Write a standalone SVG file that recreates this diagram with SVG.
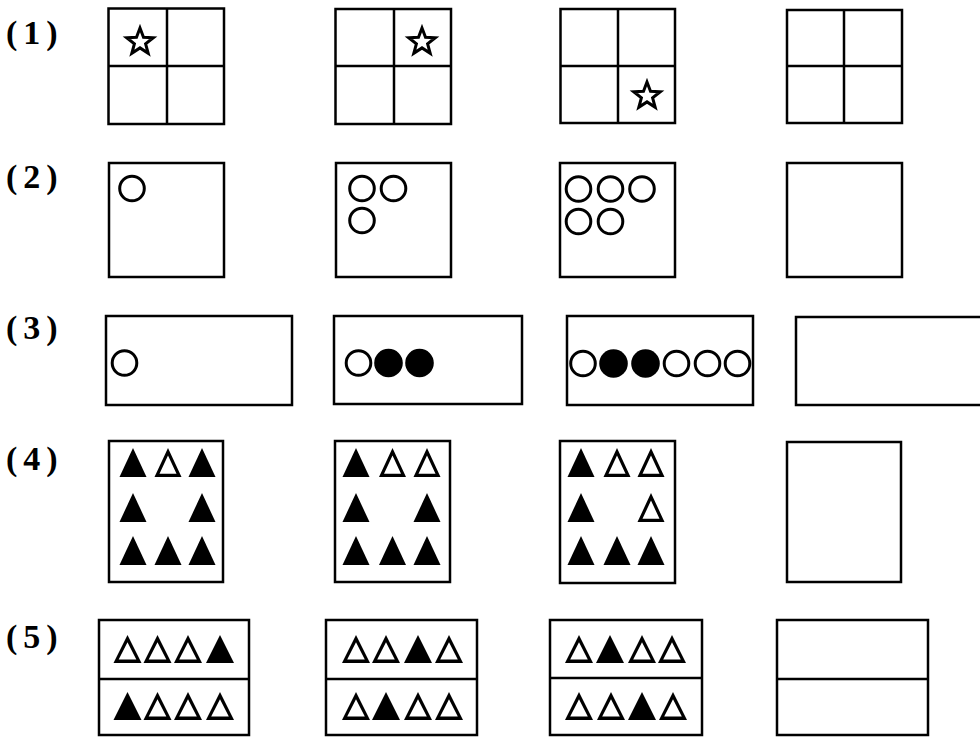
<svg xmlns="http://www.w3.org/2000/svg" xmlns:xlink="http://www.w3.org/1999/xlink" width="980" height="737" viewBox="0 0 980 737">
<style>
.box{fill:none;stroke:#000;stroke-width:2.5}
.div{stroke:#000;stroke-width:2.5}
.oc{fill:none;stroke:#000;stroke-width:3}
.fc{fill:#000}
.lbl{font-family:"Liberation Serif","Times New Roman",serif;font-size:34px;font-weight:bold;letter-spacing:6px;fill:#000}
</style>
<defs>
<path id="star" d="M0,-14 L3.5,-4.8 L13.3,-4.3 L5.6,1.8 L8.2,11.3 L0,5.9 L-8.2,11.3 L-5.6,1.8 L-13.3,-4.3 L-3.5,-4.8 Z" fill="#fff" stroke="#000" stroke-width="3" stroke-linejoin="miter"/>
<path id="tf4" d="M0,0 L13.5,29 L-13.5,29 Z" fill="#000"/>
<path id="to4" d="M0,0 L13.5,29 L-13.5,29 Z M0,7.6 L-8.5,25.7 L8.5,25.7 Z" fill="#000" fill-rule="evenodd"/>
<path id="tf5" d="M0,0 L14,28 L-14,28 Z" fill="#000"/>
<path id="to5" d="M0,0 L14,28 L-14,28 Z M0,7.2 L-8.8,24.6 L8.8,24.6 Z" fill="#000" fill-rule="evenodd"/>
</defs>
<rect width="980" height="737" fill="#fff"/>

<g id="labels">
<text class="lbl" x="6" y="44">(1)</text>
<text class="lbl" x="6" y="188">(2)</text>
<text class="lbl" x="6" y="339">(3)</text>
<text class="lbl" x="6" y="470">(4)</text>
<text class="lbl" x="6" y="648">(5)</text>
</g>

<!-- Row 1 -->
<g id="r1b1">
<rect class="box" x="108.5" y="8.5" width="115.5" height="115.5"/>
<line class="div" x1="167" y1="8.5" x2="167" y2="124"/>
<line class="div" x1="108.5" y1="66" x2="224" y2="66"/>
<use xlink:href="#star" x="140" y="42"/>
</g>
<g id="r1b2">
<rect class="box" x="335.5" y="9" width="115.5" height="115"/>
<line class="div" x1="394" y1="9" x2="394" y2="124"/>
<line class="div" x1="335.5" y1="66" x2="451" y2="66"/>
<use xlink:href="#star" x="422" y="42"/>
</g>
<g id="r1b3">
<rect class="box" x="560.5" y="9" width="114.5" height="114"/>
<line class="div" x1="618" y1="9" x2="618" y2="123"/>
<line class="div" x1="560.5" y1="66" x2="675" y2="66"/>
<use xlink:href="#star" x="647" y="96"/>
</g>
<g id="r1b4">
<rect class="box" x="787" y="10" width="115" height="113"/>
<line class="div" x1="844" y1="10" x2="844" y2="123"/>
<line class="div" x1="787" y1="66" x2="902" y2="66"/>
</g>

<!-- Row 2 -->
<g id="r2b1">
<rect class="box" x="109" y="163" width="115" height="114"/>
<circle class="oc" cx="132" cy="188.5" r="12.3"/>
</g>
<g id="r2b2">
<rect class="box" x="336" y="163" width="115" height="114"/>
<circle class="oc" cx="362" cy="188.5" r="12.3"/>
<circle class="oc" cx="393.5" cy="188.5" r="12.3"/>
<circle class="oc" cx="362" cy="220.5" r="12.3"/>
</g>
<g id="r2b3">
<rect class="box" x="560" y="163" width="115" height="114"/>
<circle class="oc" cx="578.5" cy="189" r="12.3"/>
<circle class="oc" cx="610.5" cy="189" r="12.3"/>
<circle class="oc" cx="642" cy="189" r="12.3"/>
<circle class="oc" cx="578.5" cy="221.5" r="12.3"/>
<circle class="oc" cx="610.5" cy="221.5" r="12.3"/>
</g>
<g id="r2b4">
<rect class="box" x="787" y="163" width="115" height="114"/>
</g>

<!-- Row 3 -->
<g id="r3b1">
<rect class="box" x="106" y="316" width="186" height="89"/>
<circle class="oc" cx="124.5" cy="363" r="12.3"/>
</g>
<g id="r3b2">
<rect class="box" x="334" y="316" width="188" height="88"/>
<circle class="oc" cx="358.5" cy="363" r="12.3"/>
<circle class="fc" cx="388.5" cy="363" r="14.3"/>
<circle class="fc" cx="419.5" cy="363" r="14.3"/>
</g>
<g id="r3b3">
<rect class="box" x="567" y="316" width="186" height="89"/>
<circle class="oc" cx="583" cy="363.5" r="12.3"/>
<circle class="fc" cx="613.5" cy="363.5" r="14.3"/>
<circle class="fc" cx="645.5" cy="363.5" r="14.3"/>
<circle class="oc" cx="676.5" cy="363.5" r="12.3"/>
<circle class="oc" cx="707.5" cy="363.5" r="12.3"/>
<circle class="oc" cx="737.5" cy="363.5" r="12.3"/>
</g>
<g id="r3b4">
<rect class="box" x="796" y="317" width="190" height="88"/>
</g>

<!-- Row 4 -->
<g id="r4b1">
<rect class="box" x="109" y="441" width="114" height="141"/>
<use xlink:href="#tf4" x="133" y="448"/>
<use xlink:href="#to4" x="168" y="448"/>
<use xlink:href="#tf4" x="202" y="448"/>
<use xlink:href="#tf4" x="133" y="493"/>
<use xlink:href="#tf4" x="202" y="493"/>
<use xlink:href="#tf4" x="133" y="536"/>
<use xlink:href="#tf4" x="168" y="536"/>
<use xlink:href="#tf4" x="202" y="536"/>
</g>
<g id="r4b2">
<rect class="box" x="335" y="441" width="115" height="141"/>
<use xlink:href="#tf4" x="356" y="448"/>
<use xlink:href="#to4" x="392.5" y="448"/>
<use xlink:href="#to4" x="427" y="448"/>
<use xlink:href="#tf4" x="356" y="493"/>
<use xlink:href="#tf4" x="427" y="493"/>
<use xlink:href="#tf4" x="356" y="536"/>
<use xlink:href="#tf4" x="392.5" y="536"/>
<use xlink:href="#tf4" x="427" y="536"/>
</g>
<g id="r4b3">
<rect class="box" x="560" y="441" width="115" height="142"/>
<use xlink:href="#tf4" x="581" y="448"/>
<use xlink:href="#to4" x="617" y="448"/>
<use xlink:href="#to4" x="651" y="448"/>
<use xlink:href="#tf4" x="581" y="493"/>
<use xlink:href="#to4" x="651" y="493"/>
<use xlink:href="#tf4" x="581" y="536"/>
<use xlink:href="#tf4" x="617" y="536"/>
<use xlink:href="#tf4" x="651" y="536"/>
</g>
<g id="r4b4">
<rect class="box" x="787" y="442" width="114" height="140"/>
</g>

<!-- Row 5 -->
<g id="r5b1">
<rect class="box" x="99" y="620" width="150" height="115"/>
<line class="div" x1="99" y1="679" x2="249" y2="679"/>
<use xlink:href="#to5" x="127.5" y="635"/>
<use xlink:href="#to5" x="157.5" y="635"/>
<use xlink:href="#to5" x="188" y="635"/>
<use xlink:href="#tf5" x="220" y="635"/>
<use xlink:href="#tf5" x="127.5" y="692"/>
<use xlink:href="#to5" x="157.5" y="692"/>
<use xlink:href="#to5" x="188" y="692"/>
<use xlink:href="#to5" x="220" y="692"/>
</g>
<g id="r5b2">
<rect class="box" x="326" y="620" width="151" height="115"/>
<line class="div" x1="326" y1="679" x2="477" y2="679"/>
<use xlink:href="#to5" x="356" y="635"/>
<use xlink:href="#to5" x="386" y="635"/>
<use xlink:href="#tf5" x="418" y="635"/>
<use xlink:href="#to5" x="449" y="635"/>
<use xlink:href="#to5" x="356" y="692"/>
<use xlink:href="#tf5" x="386" y="692"/>
<use xlink:href="#to5" x="418" y="692"/>
<use xlink:href="#to5" x="449" y="692"/>
</g>
<g id="r5b3">
<rect class="box" x="550" y="620" width="152" height="115"/>
<line class="div" x1="550" y1="678" x2="702" y2="678"/>
<use xlink:href="#to5" x="579" y="635"/>
<use xlink:href="#tf5" x="610" y="635"/>
<use xlink:href="#to5" x="642" y="635"/>
<use xlink:href="#to5" x="672" y="635"/>
<use xlink:href="#to5" x="579" y="692"/>
<use xlink:href="#to5" x="611" y="692"/>
<use xlink:href="#tf5" x="642" y="692"/>
<use xlink:href="#to5" x="673" y="692"/>
</g>
<g id="r5b4">
<rect class="box" x="777" y="620" width="151" height="115"/>
<line class="div" x1="777" y1="679" x2="928" y2="679"/>
</g>

<g id="connectors"/>
</svg>
